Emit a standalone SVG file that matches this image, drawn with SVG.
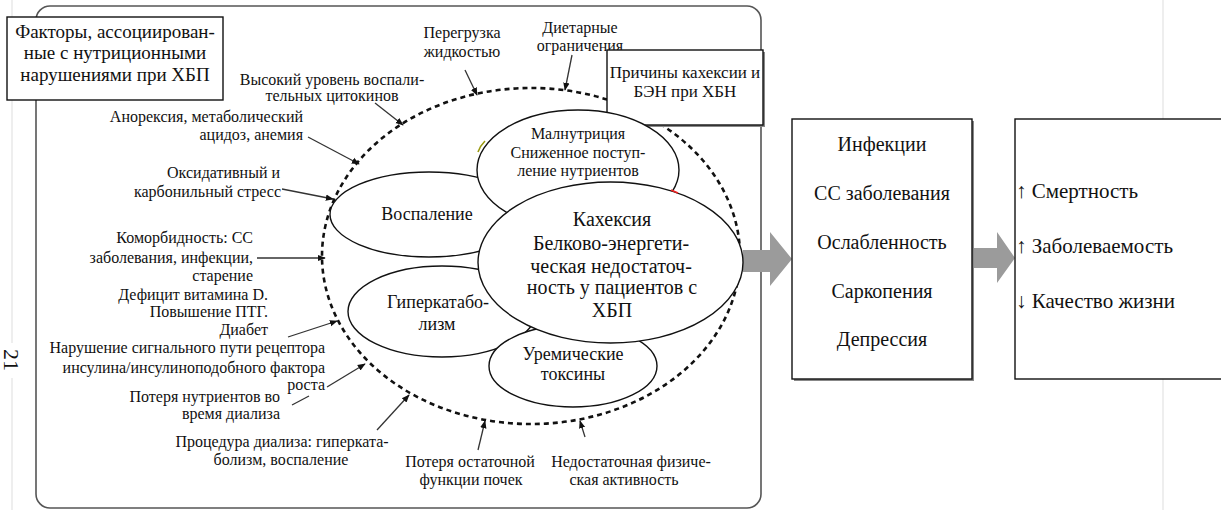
<svg xmlns="http://www.w3.org/2000/svg" width="1221" height="510" viewBox="0 0 1221 510">
<defs>
<style>
text{font-family:"Liberation Serif","Times New Roman",serif;fill:#111}
.lb{font-size:16px}
.e{fill:#fff;stroke:#111;stroke-width:1.4}
.bx{fill:#fff;stroke:#111;stroke-width:1.4}
.sh{fill:#888}
.cn{stroke:#333;stroke-width:1.3;fill:none}
.ga{fill:#9b9b9b}
</style>
<marker id="ah" viewBox="0 0 10 10" refX="9" refY="5" markerWidth="8" markerHeight="8" markerUnits="userSpaceOnUse" orient="auto"><path d="M0,1 L10,5 L0,9 z" fill="#111"/></marker>
</defs>
<rect width="1221" height="510" fill="#fff"/>
<g id="page">
<line x1="12" y1="0" x2="12" y2="343" stroke="#ddd" stroke-width="1"/>
<line x1="12" y1="378" x2="12" y2="510" stroke="#ddd" stroke-width="1"/>
<line x1="1163" y1="0" x2="1163" y2="510" stroke="#ddd" stroke-width="1"/>
<text transform="translate(4,360) rotate(90)" text-anchor="middle" style="font-size:22px">21</text>
</g>
<g id="frame">
<rect x="36" y="6" width="725" height="502" rx="14" fill="none" stroke="#555" stroke-width="1.6"/>
</g>
<g id="dashed-circle">
<ellipse cx="531" cy="256" rx="209" ry="168" fill="none" stroke="#111" stroke-width="2.6" stroke-dasharray="5 4"/>
</g>
<g id="title-factors">
<rect x="7" y="17" width="216" height="83" class="bx"/>
<text x="115" y="38" text-anchor="middle" style="font-size:19px">Факторы, ассоциирован-</text>
<text x="115" y="59" text-anchor="middle" style="font-size:19px">ные с нутриционными</text>
<text x="115" y="81" text-anchor="middle" style="font-size:19px">нарушениями при ХБП</text>
</g>
<g id="labels" class="lb">
<text x="332" y="85" text-anchor="middle">Высокий уровень воспали-</text>
<text x="332" y="101" text-anchor="middle">тельных цитокинов</text>
<text x="303" y="122" text-anchor="end">Анорексия, метаболический</text>
<text x="303" y="140" text-anchor="end">ацидоз, анемия</text>
<text x="280" y="178" text-anchor="end">Оксидативный и</text>
<text x="281" y="197" text-anchor="end">карбонильный стресс</text>
<text x="253" y="243" text-anchor="end">Коморбидность: СС</text>
<text x="253" y="263" text-anchor="end">заболевания, инфекции,</text>
<text x="253" y="281" text-anchor="end">старение</text>
<text x="268" y="300" text-anchor="end">Дефицит витамина D.</text>
<text x="268" y="317" text-anchor="end">Повышение ПТГ.</text>
<text x="268" y="335" text-anchor="end">Диабет</text>
<text x="325" y="353" text-anchor="end">Нарушение сигнального пути рецептора</text>
<text x="325" y="373" text-anchor="end">инсулина/инсулиноподобного фактора</text>
<text x="325" y="390" text-anchor="end">роста</text>
<text x="280" y="402" text-anchor="end">Потеря нутриентов во</text>
<text x="280" y="419" text-anchor="end">время диализа</text>
<text x="282" y="447" text-anchor="middle">Процедура диализа: гиперката-</text>
<text x="281" y="465" text-anchor="middle">болизм, воспаление</text>
<text x="470" y="467" text-anchor="middle">Потеря остаточной</text>
<text x="471" y="485" text-anchor="middle">функции почек</text>
<text x="631" y="467" text-anchor="middle">Недостаточная физиче-</text>
<text x="624" y="485" text-anchor="middle">ская активность</text>
<text x="462" y="38" text-anchor="middle">Перегрузка</text>
<text x="462" y="57" text-anchor="middle">жидкостью</text>
<text x="580" y="33" text-anchor="middle">Диетарные</text>
<text x="580" y="51" text-anchor="middle">ограничения</text>
</g>
<g id="title-causes">
<rect x="609" y="52" width="156" height="75" class="sh"/>
<rect x="607" y="50" width="156" height="75" class="bx"/>
<text x="685" y="78" text-anchor="middle" style="font-size:17px">Причины кахексии и</text>
<text x="685" y="97" text-anchor="middle" style="font-size:17px">БЭН при ХБН</text>
</g>
<g id="connectors">
<line class="cn" x1="375" y1="103" x2="403" y2="125" marker-end="url(#ah)"/>
<line class="cn" x1="308" y1="137" x2="359" y2="164" marker-end="url(#ah)"/>
<line class="cn" x1="282" y1="189" x2="333" y2="199" marker-end="url(#ah)"/>
<line class="cn" x1="257" y1="258" x2="325" y2="258" marker-end="url(#ah)"/>
<line class="cn" x1="288" y1="337" x2="337" y2="321" marker-end="url(#ah)"/>
<line class="cn" x1="292" y1="405" x2="309" y2="396"/>
<line class="cn" x1="327" y1="387" x2="365" y2="364" marker-end="url(#ah)"/>
<line class="cn" x1="377" y1="430" x2="409" y2="395" marker-end="url(#ah)"/>
<line class="cn" x1="478" y1="450" x2="485" y2="421" marker-end="url(#ah)"/>
<line class="cn" x1="585" y1="437" x2="580" y2="421" marker-end="url(#ah)"/>
<line class="cn" x1="465" y1="70" x2="477" y2="95" marker-end="url(#ah)"/>
<line class="cn" x1="572" y1="55" x2="565" y2="90" marker-end="url(#ah)"/>
<polygon class="ga" points="743,250 770,250 770,232 792,259 770,286 770,272 743,272"/>
<polygon class="ga" points="972,248 997,248 997,232 1015,258 997,283 997,268 972,268"/>
</g>
<g id="node-vospalenie">
<ellipse class="e" cx="429" cy="214.5" rx="99" ry="42.5"/>
<text x="427" y="220" text-anchor="middle" style="font-size:18px">Воспаление</text>
</g>
<g id="node-malnutrition">
<ellipse class="e" cx="578" cy="170" rx="101" ry="60"/>
<path d="M478,152 Q480,146 485,141" fill="none" stroke="#9a9a10" stroke-width="1.6"/>
<text x="578" y="139" text-anchor="middle" style="font-size:16px">Малнутриция</text>
<text x="578" y="158" text-anchor="middle" style="font-size:16px">Сниженное поступ-</text>
<text x="578" y="176" text-anchor="middle" style="font-size:16px">ление нутриентов</text>
</g>
<g id="node-hypercatabolism">
<ellipse class="e" cx="442" cy="311.5" rx="94" ry="45.5"/>
<text x="438" y="308" text-anchor="middle" style="font-size:18px">Гиперкатабо-</text>
<text x="437" y="330" text-anchor="middle" style="font-size:18px">лизм</text>
</g>
<g id="node-uremic">
<ellipse class="e" cx="573" cy="366" rx="84" ry="41"/>
<text x="573" y="360" text-anchor="middle" style="font-size:18px">Уремические</text>
<text x="573" y="380" text-anchor="middle" style="font-size:18px">токсины</text>
</g>
<g id="node-cachexia">
<ellipse class="e" cx="610.5" cy="262.5" rx="132.5" ry="80.5"/>
<path d="M671,190 L678,193" stroke="#e22" stroke-width="1.5"/>
<text x="612" y="226" text-anchor="middle" style="font-size:20px">Кахексия</text>
<text x="611" y="250" text-anchor="middle" style="font-size:20px">Белково-энергети-</text>
<text x="611" y="273" text-anchor="middle" style="font-size:20px">ческая недостаточ-</text>
<text x="612" y="294" text-anchor="middle" style="font-size:20px">ность у пациентов с</text>
<text x="612" y="317" text-anchor="middle" style="font-size:20px">ХБП</text>
</g>
<g id="node-consequences">
<rect x="794" y="121" width="180" height="260" class="sh"/>
<rect x="792" y="119" width="180" height="260" class="bx"/>
<text x="882" y="151" text-anchor="middle" style="font-size:20px">Инфекции</text>
<text x="882" y="200" text-anchor="middle" style="font-size:20px">СС заболевания</text>
<text x="882" y="249" text-anchor="middle" style="font-size:20px">Ослабленность</text>
<text x="882" y="298" text-anchor="middle" style="font-size:20px">Саркопения</text>
<text x="882" y="346" text-anchor="middle" style="font-size:20px">Депрессия</text>
</g>
<g id="node-outcomes">
<rect x="1015" y="119" width="210" height="260" class="bx"/>
<text x="1016" y="198" style="font-size:21px">↑ Смертность</text>
<text x="1016" y="253" style="font-size:21px">↑ Заболеваемость</text>
<text x="1016" y="308" style="font-size:21px">↓ Качество жизни</text>
</g>
</svg>
